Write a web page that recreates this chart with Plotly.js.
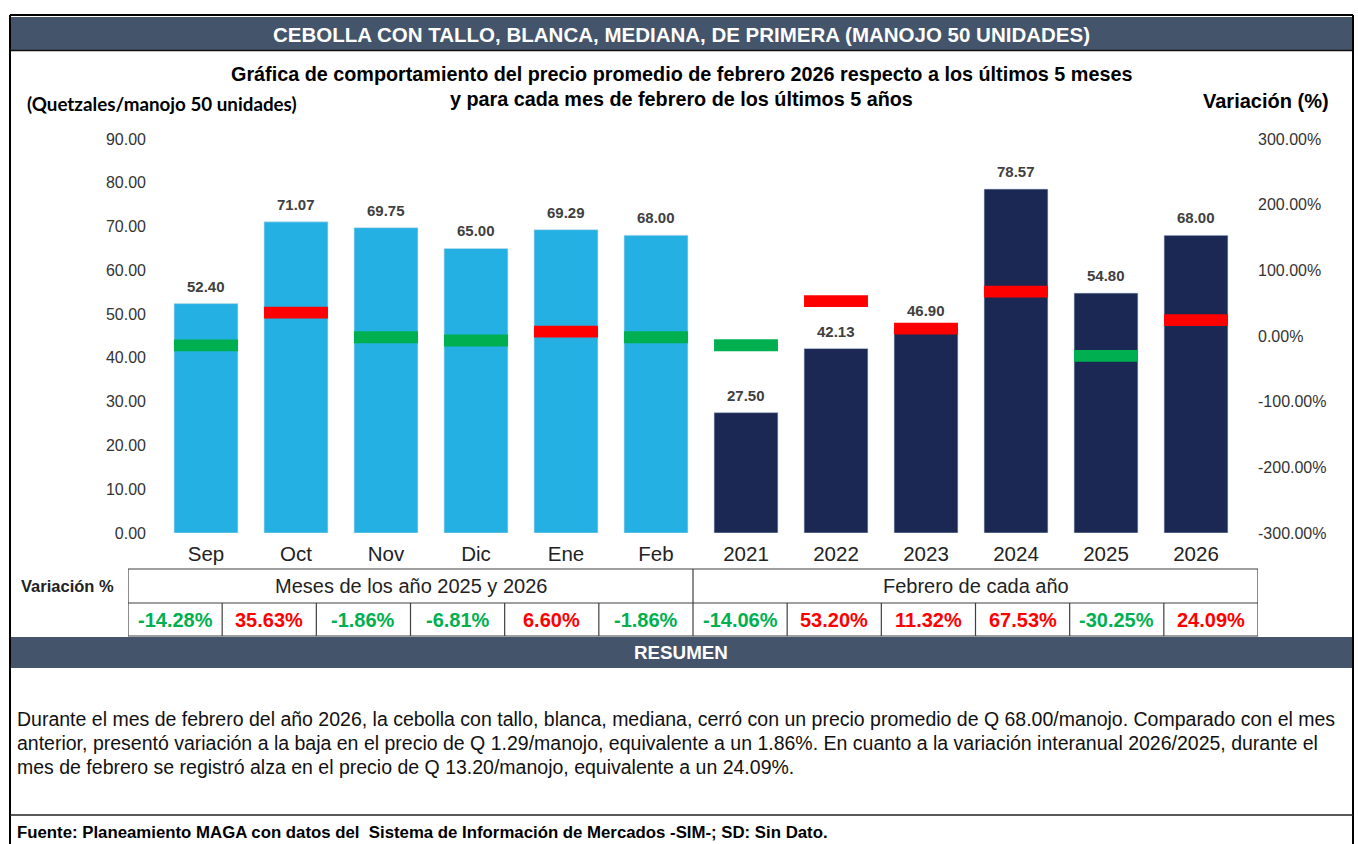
<!DOCTYPE html>
<html>
<head>
<meta charset="utf-8">
<script src="https://cdn.plot.ly/plotly-3.0.1.min.js"></script>
<style>
  body { margin: 0; background: #fff; }
  #chart { width: 1358px; height: 844px; }
</style>
</head>
<body>
<div id="chart"></div>
<script>
// Precio promedio (Q/manojo 50 unidades) y variacion (%)
let categories = ["Sep", "Oct", "Nov", "Dic", "Ene", "Feb", "2021", "2022", "2023", "2024", "2025", "2026"]
let prices = [52.40, 71.07, 69.75, 65.00, 69.29, 68.00, 27.50, 42.13, 46.90, 78.57, 54.80, 68.00]
let variations = [-14.28, 35.63, -1.86, -6.81, 6.60, -1.86, -14.06, 53.20, 11.32, 67.53, -30.25, 24.09]
let group_labels = ["Meses de los año 2025 y 2026", "Febrero de cada año"]
let y2_ticks = [-300, -200, -100, 0, 100, 200, 300]

let W = 1358, H = 844;
// pixel -> paper helpers
function px(x) { return x / W; }
function py(y) { return 1 - y / H; }

let font = "Liberation Sans, Arial, sans-serif";
let slate = "#44546A";
let light_blue = "#25B0E3";
let navy = "#1B2853";
let up_red = "#FF0000";
let down_green = "#00B050";

// bar colours: months light blue, yearly febrero navy
let bar_colors = categories.map((c, i) => i < 6 ? light_blue : navy);
let var_colors = variations.map(v => v >= 0 ? up_red : down_green);

// Price bars
let price_trace = {
  type: "bar",
  x: categories,
  y: prices,
  marker: { color: bar_colors, line: { color: "rgba(200,220,235,0.6)", width: 1 } },
  width: 0.71,
  hoverinfo: "skip",
  xaxis: "x",
  yaxis: "y"
};

// Variation markers on the right axis (thin bands)
let band = 18;
let var_trace = {
  type: "bar",
  x: categories,
  y: variations.map(() => band),
  base: variations.map(v => v - band / 2),
  marker: { color: var_colors },
  width: 0.71,
  hoverinfo: "skip",
  xaxis: "x",
  yaxis: "y2"
};

let annotations = [];
let shapes = [];

function label(x, y, text, size, color, xanchor, fam) {
  annotations.push({
    x: px(x), y: py(y), xref: "paper", yref: "paper",
    xanchor: xanchor || "center", yanchor: "middle",
    text: text, showarrow: false,
    font: { family: fam || font, size: size, color: color }
  });
}

// value labels above bars (x given as category index)
categories.forEach((c, i) => {
  annotations.push({
    x: i, y: prices[i], xref: "x", yref: "y",
    text: "<b>" + prices[i].toFixed(2) + "</b>",
    showarrow: false, xanchor: "center", yanchor: "bottom", yshift: 7,
    font: { family: font, size: 15, color: "#404040" }
  });
});

// table: value row
let row_mid = 569, row_top = 603, row_bot = 636;
categories.forEach((c, i) => {
  annotations.push({
    x: i, xref: "x2", y: py((row_top + row_bot) / 2), yref: "paper",
    text: "<b>" + variations[i].toFixed(2) + "%</b>",
    showarrow: false, xanchor: "center", yanchor: "middle",
    font: { family: font, size: 20, color: var_colors[i] }
  });
});
// table: group headers
group_labels.forEach((g, k) => {
  annotations.push({
    x: k * 6 + 2.5, xref: "x2", y: py((row_mid + row_top) / 2), yref: "paper",
    text: g, showarrow: false, xanchor: "center", yanchor: "middle",
    font: { family: font, size: 20, color: "#222" }
  });
});
label(67, 586, "<b>Variación %</b>", 16.5, "#222");

// table borders
let bcol = "#404040";
[row_mid, row_top, row_bot].forEach(r => {
  shapes.push({ type: "line", xref: "x2", yref: "paper", x0: -0.5, x1: 11.5, y0: py(r), y1: py(r), line: { color: bcol, width: 1.2 } });
});
for (let i = 0; i <= 12; i++) {
  let top = (i === 0 || i === 6 || i === 12) ? row_mid : row_top;
  shapes.push({ type: "line", xref: "x2", yref: "paper", x0: i - 0.5, x1: i - 0.5, y0: py(top), y1: py(row_bot), line: { color: bcol, width: 1.2 } });
}

// header bars and frame
shapes.push({ type: "rect", xref: "paper", yref: "paper", x0: px(11), x1: px(1352), y0: py(17), y1: py(50), fillcolor: slate, line: { width: 0 }, layer: "below" });
shapes.push({ type: "line", xref: "paper", yref: "paper", x0: px(11), x1: px(1352), y0: py(50.5), y1: py(50.5), line: { color: "#111", width: 1.5 } });
shapes.push({ type: "rect", xref: "paper", yref: "paper", x0: px(11), x1: px(1352), y0: py(637), y1: py(668), fillcolor: slate, line: { width: 0 }, layer: "below" });
shapes.push({ type: "line", xref: "paper", yref: "paper", x0: px(10), x1: px(1353), y0: py(15), y1: py(15), line: { color: "#000", width: 2 } });
shapes.push({ type: "line", xref: "paper", yref: "paper", x0: px(10), x1: px(10), y0: py(15), y1: py(844), line: { color: "#000", width: 2 } });
shapes.push({ type: "line", xref: "paper", yref: "paper", x0: px(1353), x1: px(1353), y0: py(15), y1: py(844), line: { color: "#000", width: 2 } });
shapes.push({ type: "line", xref: "paper", yref: "paper", x0: px(10), x1: px(1353), y0: py(815), y1: py(815), line: { color: "#222", width: 1.5 } });

// texts
label(681, 34, "<b>CEBOLLA CON TALLO, BLANCA, MEDIANA, DE PRIMERA (MANOJO 50 UNIDADES)</b>", 20.5, "#fff");
label(681, 74, "<b>Gráfica de comportamiento del precio promedio de febrero 2026 respecto a los últimos 5 meses</b>", 19.8, "#000");
label(681, 99, "<b>y para cada mes de febrero de los últimos 5 años</b>", 19.8, "#000");
label(25, 104, "<b>(Quetzales/manojo 50 unidades)</b>", 18.8, "#000", "left", "Lato, sans-serif");
label(1331, 101, "<b>Variación (%)</b>", 20, "#000", "right");
label(681, 652, "<b>RESUMEN</b>", 18.8, "#fff");

let summary = [
  "Durante el mes de febrero del año 2026, la cebolla con tallo, blanca, mediana, cerró con un precio promedio de Q 68.00/manojo. Comparado con el mes",
  "anterior, presentó variación a la baja en el precio de Q 1.29/manojo, equivalente a un 1.86%. En cuanto a la variación interanual 2026/2025, durante el",
  "mes de febrero se registró alza en el precio de Q 13.20/manojo, equivalente a un 24.09%."
];
summary.forEach((line, i) => label(15, 719 + i * 24, line, 19.5, "#111", "left"));
label(15, 832, "<b>Fuente: Planeamiento MAGA con datos del&nbsp; Sistema de Información de Mercados -SIM-; SD: Sin Dato.</b>", 16.8, "#000", "left");

let layout = {
  width: W,
  height: H,
  margin: { l: 0, r: 0, t: 0, b: 0 },
  paper_bgcolor: "#fff",
  plot_bgcolor: "rgba(0,0,0,0)",
  showlegend: false,
  barmode: "overlay",
  xaxis: {
    type: "category",
    categoryorder: "array",
    categoryarray: categories,
    range: [-0.5, 11.5],
    domain: [px(161), px(1241)],
    anchor: "y",
    showgrid: false, zeroline: false, showline: false, ticks: "",
    ticklabelstandoff: 6,
    tickfont: { family: font, size: 20.5, color: "#222" }
  },
  xaxis2: {
    type: "category",
    categoryorder: "array",
    categoryarray: categories,
    domain: [px(128), px(1258)],
    range: [-0.5, 11.5],
    anchor: "free", position: 0,
    visible: false
  },
  yaxis: {
    domain: [py(533), py(139)],
    range: [0, 90], dtick: 10, tickformat: ".2f",
    showgrid: false, zeroline: false, showline: false, ticks: "",
    ticklabelstandoff: 14,
    tickfont: { family: font, size: 16, color: "#333" }
  },
  yaxis2: {
    overlaying: "y", side: "right",
    range: [-300, 300],
    tickvals: y2_ticks,
    ticktext: y2_ticks.map(v => v.toFixed(2) + "%"),
    showgrid: false, zeroline: false, showline: false, ticks: "",
    ticklabelstandoff: 16,
    tickfont: { family: font, size: 16, color: "#333" }
  },
  shapes: shapes,
  annotations: annotations
};

// invisible trace so the table axis (x2) is built with the same categories
let table_axis = {
  type: "scatter", x: categories, y: prices.map(() => null),
  xaxis: "x2", yaxis: "y", hoverinfo: "skip", mode: "markers"
};

Plotly.newPlot("chart", [price_trace, var_trace, table_axis], layout, { displayModeBar: false, staticPlot: true });
</script>
</body>
</html>
